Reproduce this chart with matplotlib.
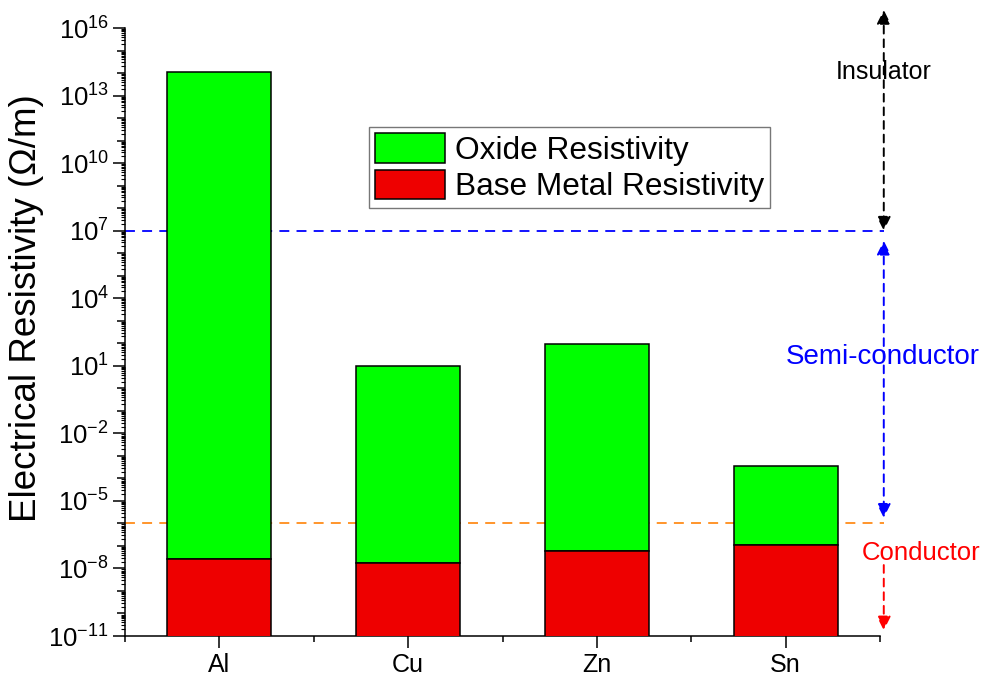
import matplotlib
matplotlib.use("Agg")
import matplotlib.pyplot as plt
import numpy as np
from matplotlib.ticker import FixedLocator, FuncFormatter, LogLocator, NullFormatter

plt.rcParams['font.family'] = ['Liberation Sans', 'DejaVu Sans']
plt.rcParams['mathtext.fontset'] = 'custom'
plt.rcParams['mathtext.rm'] = 'Liberation Sans'
plt.rcParams['mathtext.it'] = 'Liberation Sans:italic'
plt.rcParams['mathtext.bf'] = 'Liberation Sans:bold'

# Resistivity data (Ohm/m)
metals = ['Al', 'Cu', 'Zn', 'Sn']
base_metal = [2.65e-8, 1.68e-8, 5.9e-8, 1.09e-7]
oxide = [1.1e14, 1.0e1, 9.0e1, 3.6e-4]

# Class boundaries
insulator_min = 1e7
conductor_max = 1e-6

# Axis range (decades)
y_lo_exp, y_hi_exp = -11, 16

fig = plt.figure(figsize=(9.88, 6.80), dpi=100)
ax = fig.add_axes([125 / 988, 1 - 636 / 680, 755 / 988, 608 / 680])

x = np.arange(1, len(metals) + 1)
width = 0.55
base = np.array(base_metal)
ox = np.array(oxide)

ax.bar(x, ox - base, bottom=base, width=width, color='#00FF00',
       edgecolor='black', linewidth=1.1, label='Oxide Resistivity', zorder=3)
ax.bar(x, base, width=width, color='#EE0000', edgecolor='black',
       linewidth=1.1, label='Base Metal Resistivity', zorder=3)

ax.set_yscale('log')
ax.set_ylim(10.0 ** y_lo_exp, 10.0 ** y_hi_exp)
ax.set_xlim(0.5, 4.5)

# Boundary lines
x_arrow = 4.52
ax.plot([0.5, x_arrow], [insulator_min, insulator_min], color='#0000FF',
        lw=1.3, ls=(0, (5.5, 4)), zorder=1, clip_on=False)
ax.plot([0.5, x_arrow], [conductor_max, conductor_max], color='#FF8C1A',
        lw=1.3, ls=(0, (5.5, 4)), zorder=1, clip_on=False)


def double_arrow(y0, y1, color, heads='<|-|>', xpos=x_arrow):
    ax.annotate('', xy=(xpos, y1), xytext=(xpos, y0), xycoords='data',
                arrowprops=dict(arrowstyle=heads, color=color, lw=1.4,
                                ls=(0, (4, 3)), mutation_scale=21,
                                shrinkA=0, shrinkB=0),
                annotation_clip=False, zorder=4)


double_arrow(10 ** 16.8, 10 ** 7.0, 'black')
double_arrow(10 ** 6.55, 10 ** -5.75, '#0000FF')
double_arrow(10 ** -7.85, 10 ** -10.75, '#FF0000', heads='-|>')

ax.text(x_arrow, 10 ** 14.05, 'Insulator', ha='center', va='center',
        fontsize=18, color='black', zorder=5, clip_on=False)
ax.text(4.515, 10 ** 1.39, 'Semi-conductor', ha='center', va='center',
        fontsize=20, color='#0000FF', zorder=5, clip_on=False)
ax.text(4.715, 10 ** -7.31, 'Conductor', ha='center', va='center',
        fontsize=18.5, color='#FF0000', zorder=5, clip_on=False)

# Spines
for side in ('top', 'right'):
    ax.spines[side].set_visible(False)
for side in ('left', 'bottom'):
    ax.spines[side].set_linewidth(1.1)

# X ticks
ax.xaxis.set_major_locator(FixedLocator(x))
ax.set_xticklabels(metals)
ax.xaxis.set_minor_locator(FixedLocator([0.5, 1.5, 2.5, 3.5, 4.5]))
ax.tick_params(axis='x', which='major', length=8.5, width=1.1, labelsize=18, pad=4)
ax.tick_params(axis='x', which='minor', length=4.3, width=1.1)

# Y ticks: every decade, labelled every third decade
decades = np.arange(y_lo_exp, y_hi_exp + 1)
ax.yaxis.set_major_locator(FixedLocator(10.0 ** decades))


def decade_label(v, pos):
    e = int(round(np.log10(v)))
    if (e - y_lo_exp) % 3 == 0:
        return r'$\mathregular{10^{%d}}$' % e
    return ''


ax.yaxis.set_major_formatter(FuncFormatter(decade_label))
ax.yaxis.set_minor_locator(LogLocator(base=10, subs=np.arange(2, 10), numticks=100))
ax.yaxis.set_minor_formatter(NullFormatter())
ax.tick_params(axis='y', which='major', length=5.5, width=1.1, labelsize=18.5, pad=6)
ax.tick_params(axis='y', which='minor', length=3, width=0.8)
for e, t in zip(decades, ax.yaxis.get_major_ticks()):
    if (e - y_lo_exp) % 3 == 0:
        t.tick1line.set_markersize(8.5)

ax.set_ylabel('Electrical Resistivity (\u03a9/m)', fontsize=26.5)
ax.yaxis.set_label_coords(-0.107, 0.54)

leg = fig.legend(loc='upper left', bbox_to_anchor=(369 / 988, 1 - 127 / 680),
                 borderaxespad=0, fontsize=22.8, frameon=True, fancybox=False,
                 edgecolor='#555555', handlelength=2.2, handleheight=1.05,
                 labelspacing=0.12, borderpad=0.2, handletextpad=0.3)
leg.get_frame().set_linewidth(1.0)

fig.savefig('out.png', dpi=100)
